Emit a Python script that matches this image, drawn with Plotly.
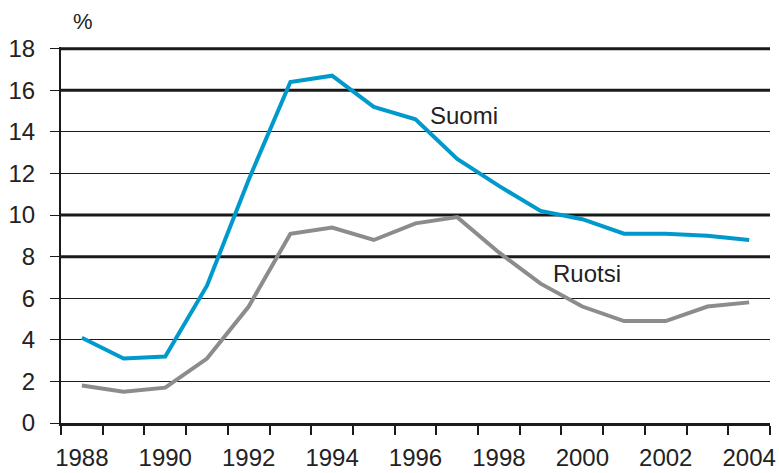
import plotly.graph_objects as go

# unemployment rate, %
years = list(range(1988, 2005))
suomi = [4.1, 3.1, 3.2, 6.6, 11.7, 16.4, 16.7, 15.2, 14.6, 12.7, 11.4, 10.2, 9.8, 9.1, 9.1, 9.0, 8.8]
ruotsi = [1.8, 1.5, 1.7, 3.1, 5.6, 9.1, 9.4, 8.8, 9.6, 9.9, 8.2, 6.7, 5.6, 4.9, 4.9, 5.6, 5.8]

y_ticks = list(range(0, 20, 2))
x_labels = list(range(1988, 2005, 2))
thick_grid = [8, 10, 16, 18]

font = "Liberation Sans, Arial, sans-serif"
ink = "#1a1a1a"

fig = go.Figure()

# heavier gridlines behind the series
for g in thick_grid:
    fig.add_shape(type="line", xref="x", yref="y", x0=1987.5, x1=2004.5, y0=g, y1=g,
                  line=dict(color=ink, width=3), layer="below")

fig.add_trace(go.Scatter(x=years, y=suomi, mode="lines",
                         line=dict(color="#0099cc", width=4), showlegend=False))
fig.add_trace(go.Scatter(x=years, y=ruotsi, mode="lines",
                         line=dict(color="#8c8c8c", width=4), showlegend=False))

fig.add_annotation(x=1996.3, y=14.8, text="Suomi", showarrow=False, xanchor="left",
                   font=dict(size=24, color="#222"))
fig.add_annotation(x=1999.25, y=7.2, text="Ruotsi", showarrow=False, xanchor="left",
                   font=dict(size=24, color="#222"))
fig.add_annotation(x=0.0, y=1.0, xref="paper", yref="paper", text="%", showarrow=False,
                   xanchor="left", yanchor="bottom", xshift=10, yshift=11,
                   font=dict(size=22, color="#222"))

fig.update_xaxes(range=[1987.5, 2004.5], tickvals=x_labels, ticks="", showgrid=False,
                 showline=True, linecolor=ink, linewidth=3, automargin=False,
                 ticklabelstandoff=11,
                 tickfont=dict(size=24, color="#222"),
                 minor=dict(tickvals=[y + 0.5 for y in range(1987, 2005)], ticks="outside",
                            ticklen=9, tickwidth=2, tickcolor=ink, showgrid=False),
                 zeroline=False)
fig.update_yaxes(range=[0, 18.08], tickvals=y_ticks, ticks="outside", ticklen=9, tickwidth=1,
                 tickcolor=ink, showgrid=True, gridcolor=ink, gridwidth=1.3,
                 showline=True, linecolor=ink, linewidth=2, automargin=False,
                 ticklabelstandoff=10,
                 tickfont=dict(size=24, color="#222"), zeroline=False)

fig.update_layout(width=779, height=473, margin=dict(l=61, r=9, t=47, b=50),
                  plot_bgcolor="white", paper_bgcolor="white",
                  font=dict(family=font))

fig.write_html("out.html", config={"displayModeBar": False},
               post_script="document.body.style.margin='0';")
